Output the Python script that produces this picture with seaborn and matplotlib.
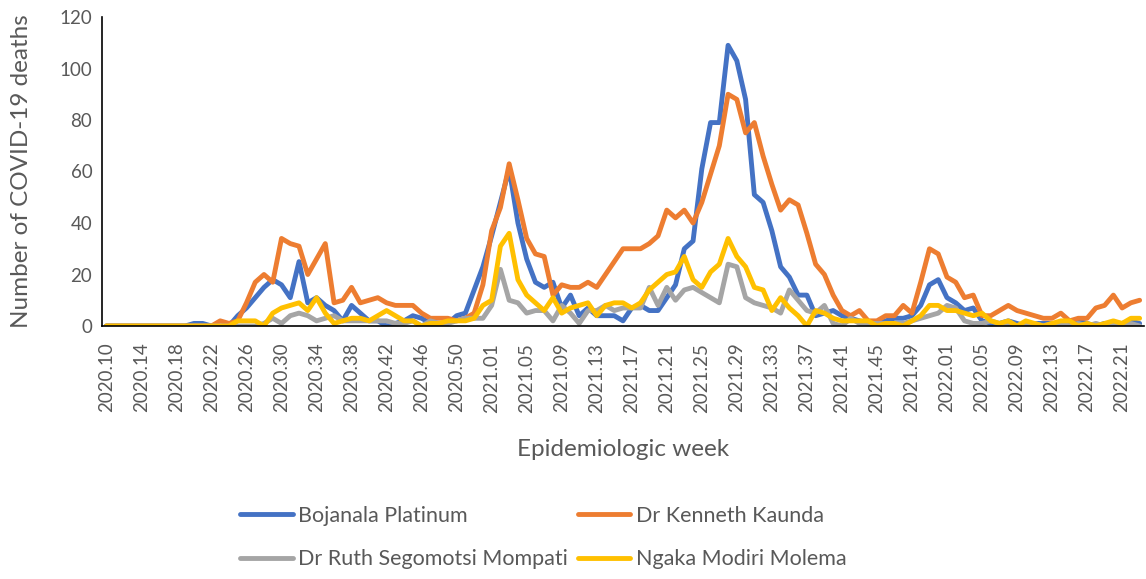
import numpy as np
import pandas as pd
import seaborn as sns
import matplotlib.pyplot as plt

# ======================
# Data: weekly COVID-19 deaths per district
# ======================
weeks = ([f"2020.{w:02d}" for w in range(10, 54)] +
         [f"2021.{w:02d}" for w in range(1, 53)] +
         [f"2022.{w:02d}" for w in range(1, 24)])

bojanala = [0, 0, 0, 0, 0, 0, 0, 0, 0, 0,
            1, 1, 0, 0, 0, 4, 7, 11, 15, 18,
            16, 11, 25, 9, 11, 8, 6, 2, 8, 5,
            2, 2, 0, 1, 2, 4, 3, 1, 0, 1,
            4, 5, 14, 23, 35, 48, 61, 40, 26, 17,
            15, 17, 7, 12, 4, 7, 4, 4, 4, 2,
            7, 8, 6, 6, 11, 16, 30, 33, 61, 79,
            79, 109, 103, 88, 51, 48, 37, 23, 19, 12,
            12, 4, 5, 6, 4, 3, 2, 1, 1, 2,
            3, 3, 4, 8, 16, 18, 11, 9, 6, 7,
            2, 1, 1, 2, 1, 0, 1, 1, 1, 0,
            1, 2, 1, 0, 1, 0, 1, 2, 1]

kaunda = [0, 0, 0, 0, 0, 0, 0, 0, 0, 0,
          0, 0, 0, 2, 1, 2, 9, 17, 20, 17,
          34, 32, 31, 20, 26, 32, 9, 10, 15, 9,
          10, 11, 9, 8, 8, 8, 5, 3, 3, 3,
          2, 3, 5, 16, 37, 46, 63, 49, 34, 28,
          27, 12, 16, 15, 15, 17, 15, 20, 25, 30,
          30, 30, 32, 35, 45, 42, 45, 40, 48, 59,
          70, 90, 88, 75, 79, 66, 55, 45, 49, 47,
          36, 24, 20, 12, 6, 4, 6, 2, 2, 4,
          4, 8, 5, 17, 30, 28, 19, 17, 11, 12,
          4, 4, 6, 8, 6, 5, 4, 3, 3, 5,
          2, 3, 3, 7, 8, 12, 7, 9, 10]

mompati = [0, 0, 0, 0, 0, 0, 0, 0, 0, 0,
           0, 0, 0, 0, 0, 0, 0, 0, 1, 3,
           1, 4, 5, 4, 2, 3, 4, 2, 2, 2,
           2, 2, 2, 1, 1, 2, 0, 2, 1, 1,
           2, 3, 3, 3, 8, 22, 10, 9, 5, 6,
           6, 2, 8, 5, 1, 6, 6, 8, 6, 7,
           7, 7, 15, 8, 15, 10, 14, 15, 13, 11,
           9, 24, 23, 11, 9, 8, 7, 5, 14, 10,
           6, 5, 8, 1, 0, 3, 1, 1, 1, 1,
           1, 1, 2, 3, 4, 5, 8, 7, 2, 1,
           1, 2, 1, 1, 0, 1, 1, 0, 1, 1,
           0, 1, 0, 1, 0, 1, 0, 1, 0]

molema = [0, 0, 0, 0, 0, 0, 0, 0, 0, 0,
          0, 0, 0, 0, 0, 2, 2, 2, 0, 5,
          7, 8, 9, 6, 11, 5, 1, 2, 3, 3,
          2, 4, 6, 4, 2, 2, 0, 1, 1, 2,
          2, 2, 3, 8, 10, 31, 36, 18, 12, 9,
          6, 11, 5, 7, 8, 9, 4, 8, 9, 9,
          7, 9, 14, 17, 20, 21, 27, 18, 15, 21,
          24, 34, 27, 23, 15, 14, 6, 11, 7, 4,
          0, 6, 5, 3, 2, 2, 2, 2, 0, 1,
          1, 0, 2, 4, 8, 8, 6, 6, 5, 4,
          5, 2, 1, 2, 0, 2, 1, 0, 1, 2,
          2, 0, 1, 0, 1, 2, 1, 3, 3]

districts = ["Bojanala Platinum", "Dr Kenneth Kaunda",
             "Dr Ruth Segomotsi Mompati", "Ngaka Modiri Molema"]
colors = ["#4472C4", "#ED7D31", "#A5A5A5", "#FFC000"]

idx = np.arange(len(weeks))
df = pd.concat([
    pd.DataFrame({"idx": idx, "week": weeks, "deaths": vals, "district": name})
    for name, vals in zip(districts, [bojanala, kaunda, mompati, molema])
], ignore_index=True)

# ======================
# Plot
# ======================
sns.set_style("white")
plt.rcParams["font.family"] = ["Lato", "DejaVu Sans"]
text_col = "#595959"

fig = plt.figure(figsize=(11.46, 5.79), dpi=100)
ax = fig.add_axes([102 / 1146, 1 - 326 / 579, 1042 / 1146, 309 / 579])

sns.lineplot(data=df, x="idx", y="deaths", hue="district", hue_order=districts,
             palette=colors, linewidth=3.5, sort=False, ax=ax)

ax.set_xlim(-0.5, len(weeks) - 0.5)
ax.set_ylim(0, 120)
ax.set_yticks(range(0, 121, 20))
ax.set_xticks(idx[::4])
ax.set_xticklabels(weeks[::4], rotation=90)
ax.tick_params(axis="both", length=0, labelsize=13.5, colors=text_col)
ax.tick_params(axis="x", pad=12)
ax.tick_params(axis="y", pad=7)

for side in ["top", "right"]:
    ax.spines[side].set_visible(False)
for side in ["left", "bottom"]:
    ax.spines[side].set_color("black")
    ax.spines[side].set_linewidth(1.2)

ax.set_xlabel("Epidemiologic week", fontsize=17.5, color=text_col, labelpad=19)
ax.set_ylabel("Number of COVID-19 deaths", fontsize=17.5, color=text_col, labelpad=20)

# legend in two rows below the chart
h, l = ax.get_legend_handles_labels()
ax.get_legend().remove()
order = [0, 2, 1, 3]
fig.legend([h[i] for i in order], [l[i] for i in order], ncol=2,
           loc="center", bbox_to_anchor=(0.474, 0.0715), frameon=False,
           fontsize=15.5, labelcolor=text_col, handlelength=2.45,
           handletextpad=0.25, columnspacing=0.45, labelspacing=1.1)

fig.savefig("out.png", dpi=100)
